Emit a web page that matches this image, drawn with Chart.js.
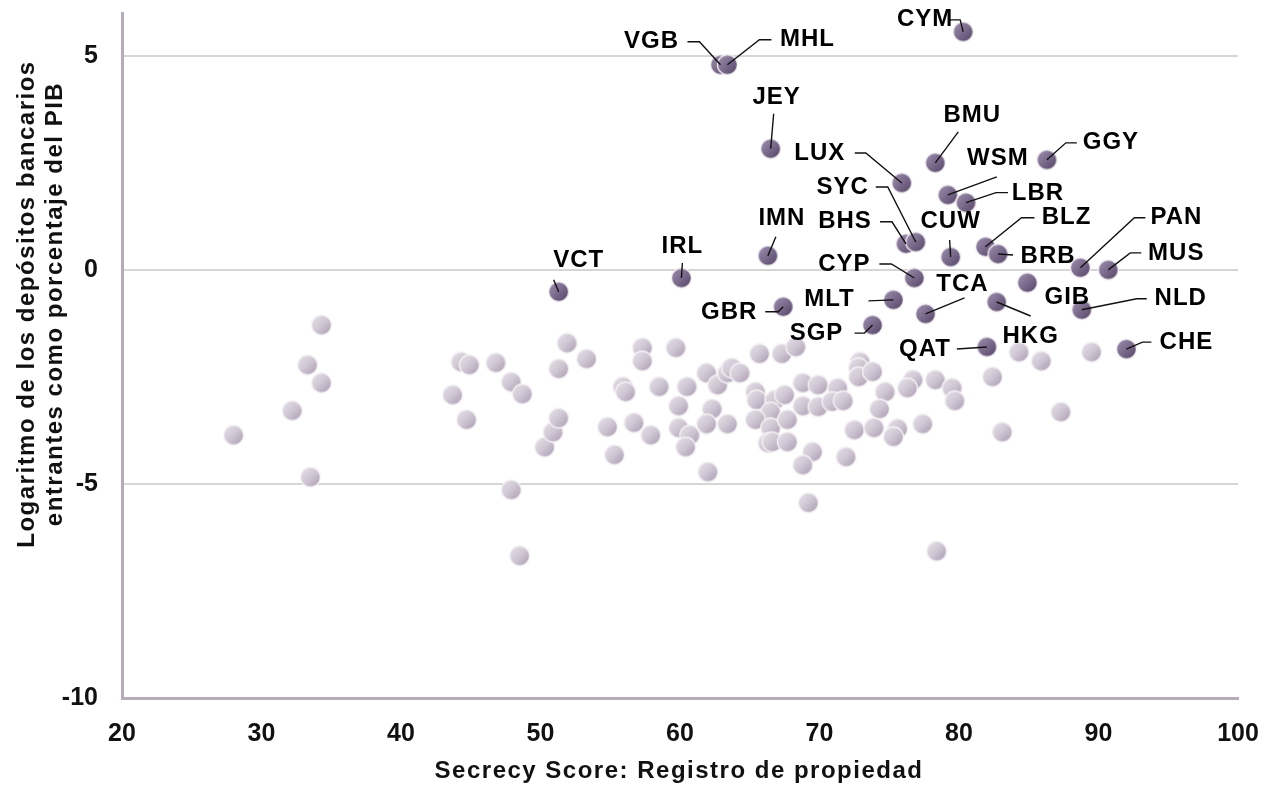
<!DOCTYPE html>
<html><head><meta charset="utf-8">
<script src="https://cdn.jsdelivr.net/npm/chart.js@4/dist/chart.umd.min.js"></script>
<style>html,body{margin:0;padding:0;background:#fff}#wrap{width:1266px;height:785px;position:relative}</style>
</head><body><div id="wrap"><canvas id="c" width="1266" height="785"></canvas></div>
<script>
// ---- data ----
const xTitle = 'Secrecy Score: Registro de propiedad';
const yTitle = ['Logaritmo de los depósitos bancarios', 'entrantes como porcentaje del PIB'];
const xTicks = [20, 30, 40, 50, 60, 70, 80, 90, 100];
const yTicks = [-10, -5, 0, 5];

const labCodes = ['CYM','VGB','MHL','JEY','BMU','GGY','LUX','WSM','LBR','BHS','SYC','CUW','BLZ','BRB','IMN','IRL','VCT','PAN','MUS','CYP','GIB','TCA','MLT','GBR','SGP','HKG','NLD','QAT','CHE'];
const labX = [80.3,62.9,63.4,66.5,78.3,86.3,75.9,79.2,80.5,76.2,76.9,79.4,81.9,82.8,66.3,60.1,51.3,88.7,90.7,76.8,84.9,77.6,75.3,67.4,73.8,82.7,88.8,82.0,92.0];
const labY = [5.56,4.79,4.79,2.83,2.50,2.57,2.03,1.75,1.57,0.61,0.65,0.30,0.54,0.37,0.33,-0.19,-0.51,0.05,0.00,-0.19,-0.30,-1.03,-0.70,-0.86,-1.29,-0.75,-0.93,-1.80,-1.85];

const otherX = [28.0,32.2,33.3,34.3,34.3,33.5,43.7,44.3,44.9,46.8,47.9,48.7,44.7,47.9,48.5,50.3,50.9,51.3,51.3,51.9,53.3,
  57.3,57.3,59.7,55.9,56.1,58.5,60.5,61.9,62.7,63.4,63.7,64.3,65.7,67.3,68.3,59.9,62.3,54.8,56.7,57.9,59.9,60.7,60.4,61.9,63.4,55.3,62.0,
  65.4,65.5,66.8,67.5,66.5,65.4,66.5,66.3,66.6,67.7,67.7,68.8,69.9,68.8,69.9,71.3,70.9,71.7,69.5,68.8,71.9,69.2,
  72.9,72.8,72.8,73.8,74.7,74.3,72.5,73.9,75.6,75.3,76.7,76.3,78.3,79.5,79.7,77.4,78.4,82.4,84.3,85.9,89.5,87.3,83.1];
const otherY = [-3.86,-3.29,-2.22,-1.29,-2.64,-4.84,-2.92,-2.15,-2.22,-2.17,-2.62,-2.90,-3.50,-5.14,-6.68,-4.14,-3.79,-3.46,-2.31,-1.71,-2.08,
  -1.82,-2.13,-1.82,-2.73,-2.85,-2.73,-2.73,-2.41,-2.69,-2.41,-2.29,-2.41,-1.96,-1.96,-1.80,-3.18,-3.25,-3.67,-3.57,-3.86,-3.69,-3.86,-4.14,-3.60,-3.60,-4.32,-4.72,
  -2.85,-3.04,-3.04,-2.92,-3.32,-3.50,-3.69,-4.04,-4.02,-4.02,-3.50,-2.64,-2.69,-3.18,-3.20,-2.76,-3.08,-3.06,-4.25,-4.56,-4.37,-5.44,
  -2.15,-2.29,-2.50,-2.38,-2.85,-3.25,-3.74,-3.69,-3.71,-3.90,-2.57,-2.76,-2.57,-2.76,-3.06,-3.60,-6.57,-2.50,-1.92,-2.13,-1.92,-3.32,-3.79];

// label placement (pixel offsets from the point): text centre, then leader-line vertices
const labelPlacement = {
  CYM: [[-38,-12], [[-15,-12],[-3,-12]]],
  VGB: [[-69,-23], [[-33,-23],[-21,-23]]],
  MHL: [[80,-25], [[44,-25],[32,-25]]],
  JEY: [[6,-51], [[3,-35]]],
  BMU: [[37,-47], [[23,-31]]],
  GGY: [[64,-17], [[30,-17],[19,-17]]],
  LUX: [[-82,-30], [[-47,-30],[-36,-30]]],
  WSM: [[50,-37], [[49,-18]]],
  LBR: [[72,-9], [[42,-10],[30,-10]]],
  BHS: [[-61,-22], [[-26,-22],[-14,-22]]],
  SYC: [[-73,-55], [[-40,-55],[-28,-55]]],
  CUW: [[0,-36], [[-1,-17]]],
  BLZ: [[81,-29], [[49,-29],[36,-29]]],
  BRB: [[50,2], [[15,1]]],
  IMN: [[14,-37], [[8,-19]]],
  IRL: [[1,-32], [[1,-15]]],
  VCT: [[20,-31], [[-5,-12]]],
  PAN: [[96,-50], [[65,-50],[54,-50]]],
  MUS: [[68,-17], [[33,-17],[22,-17]]],
  CYP: [[-70,-14], [[-35,-14],[-23,-14]]],
  GIB: [[40,15], []],
  TCA: [[37,-30], [[39,-16]]],
  MLT: [[-64,0], [[-25,1]]],
  GBR: [[-54,6], [[-18,5],[-5,5]]],
  SGP: [[-56,8], [[-18,8],[-8,8]]],
  HKG: [[34,34], [[34,14]]],
  NLD: [[99,-11], [[65,-11],[55,-11]]],
  QAT: [[-62,2], [[-30,2]]],
  CHE: [[60,-7], [[25,-7],[16,-7]]]
};

// ---- point images ----
function ball(c1, c2, c3) {
  const cv = document.createElement('canvas');
  cv.width = 23; cv.height = 23;
  const g = cv.getContext('2d');
  const gr = g.createLinearGradient(3, 3, 20, 20);
  gr.addColorStop(0, c1); gr.addColorStop(0.5, c2); gr.addColorStop(1, c3);
  g.beginPath(); g.arc(11.5, 11.5, 10, 0, Math.PI * 2);
  g.fillStyle = gr; g.fill();
  g.lineWidth = 1.3; g.strokeStyle = 'rgba(245,243,246,0.95)'; g.stroke();
  return cv;
}
const lightBall = ball('#e4dfe7', '#cfc6d3', '#ad9fb4');
const darkBall = ball('#9a8bab', '#7a6a8b', '#5a496b');

const FONT = '"Liberation Sans", Arial, sans-serif';

const labelPlugin = {
  id: 'labels',
  afterDatasetsDraw(chart) {
    const ctx = chart.ctx;
    const meta = chart.getDatasetMeta(0);
    ctx.save();
    ctx.strokeStyle = '#111'; ctx.lineWidth = 1.4;
    ctx.fillStyle = '#000';
    ctx.font = 'bold 24px ' + FONT;
    ctx.letterSpacing = '1px';
    ctx.textAlign = 'center'; ctx.textBaseline = 'middle';
    labCodes.forEach((code, i) => {
      const el = meta.data[i];
      const p = labelPlacement[code];
      const pts = p[1];
      if (pts.length) {
        ctx.beginPath();
        ctx.moveTo(el.x + pts[0][0], el.y + pts[0][1]);
        for (let k = 1; k < pts.length; k++) ctx.lineTo(el.x + pts[k][0], el.y + pts[k][1]);
        ctx.lineTo(el.x, el.y);
        ctx.stroke();
      }
      ctx.fillText(code, el.x + p[0][0], el.y + p[0][1]);
    });
    ctx.restore();
  },
  afterDraw(chart) {
    const ctx = chart.ctx;
    ctx.save();
    ctx.fillStyle = '#111';
    ctx.font = 'bold 24px ' + FONT;
    ctx.letterSpacing = '1.5px';
    ctx.textAlign = 'center'; ctx.textBaseline = 'middle';
    ctx.fillText(xTitle, 679, 771);
    ctx.save();
    ctx.translate(27, 304); ctx.rotate(-Math.PI / 2);
    ctx.fillText(yTitle[0], 0, 0);
    ctx.restore();
    ctx.save();
    ctx.translate(55, 304); ctx.rotate(-Math.PI / 2);
    ctx.fillText(yTitle[1], 0, 0);
    ctx.restore();
    ctx.restore();
  }
};

const chart = new Chart(document.getElementById('c'), {
  type: 'scatter',
  data: {
    datasets: [
      { label: 'labelled', data: labX.map((x, i) => ({ x, y: labY[i] })), pointStyle: darkBall, pointRadius: 10, order: 0 },
      { label: 'other', data: otherX.map((x, i) => ({ x, y: otherY[i] })), pointStyle: lightBall, pointRadius: 10, order: 1 }
    ]
  },
  options: {
    responsive: false, animation: false,
    layout: { padding: { top: 13, right: 28, left: 0, bottom: 0 } },
    plugins: { legend: { display: false }, tooltip: { enabled: false } },
    scales: {
      x: {
        type: 'linear', min: 20, max: 100,
        afterBuildTicks: s => { s.ticks = xTicks.map(v => ({ value: v })); },
        afterFit: s => { s.height = 87; s.paddingLeft = 0; s.paddingRight = 0; },
        grid: { display: false, drawTicks: false },
        border: { display: true, color: '#b5abbb', width: 3 },
        ticks: { padding: 21, color: '#111', font: { family: FONT, size: 25, weight: 'bold' }, maxRotation: 0 }
      },
      y: {
        type: 'linear', min: -10, max: 6,
        afterBuildTicks: s => { s.ticks = yTicks.map(v => ({ value: v })); },
        afterFit: s => { s.width = 122; s.paddingTop = 0; s.paddingBottom = 0; },
        grid: { drawTicks: false, lineWidth: 2, color: c => (c.tick && c.tick.value === -10) ? 'rgba(0,0,0,0)' : '#d6d6d6' },
        border: { display: true, color: '#b5abbb', width: 3 },
        ticks: { padding: 24, color: '#111', font: { family: FONT, size: 25, weight: 'bold' } }
      }
    }
  },
  plugins: [labelPlugin]
});
</script></body></html>
